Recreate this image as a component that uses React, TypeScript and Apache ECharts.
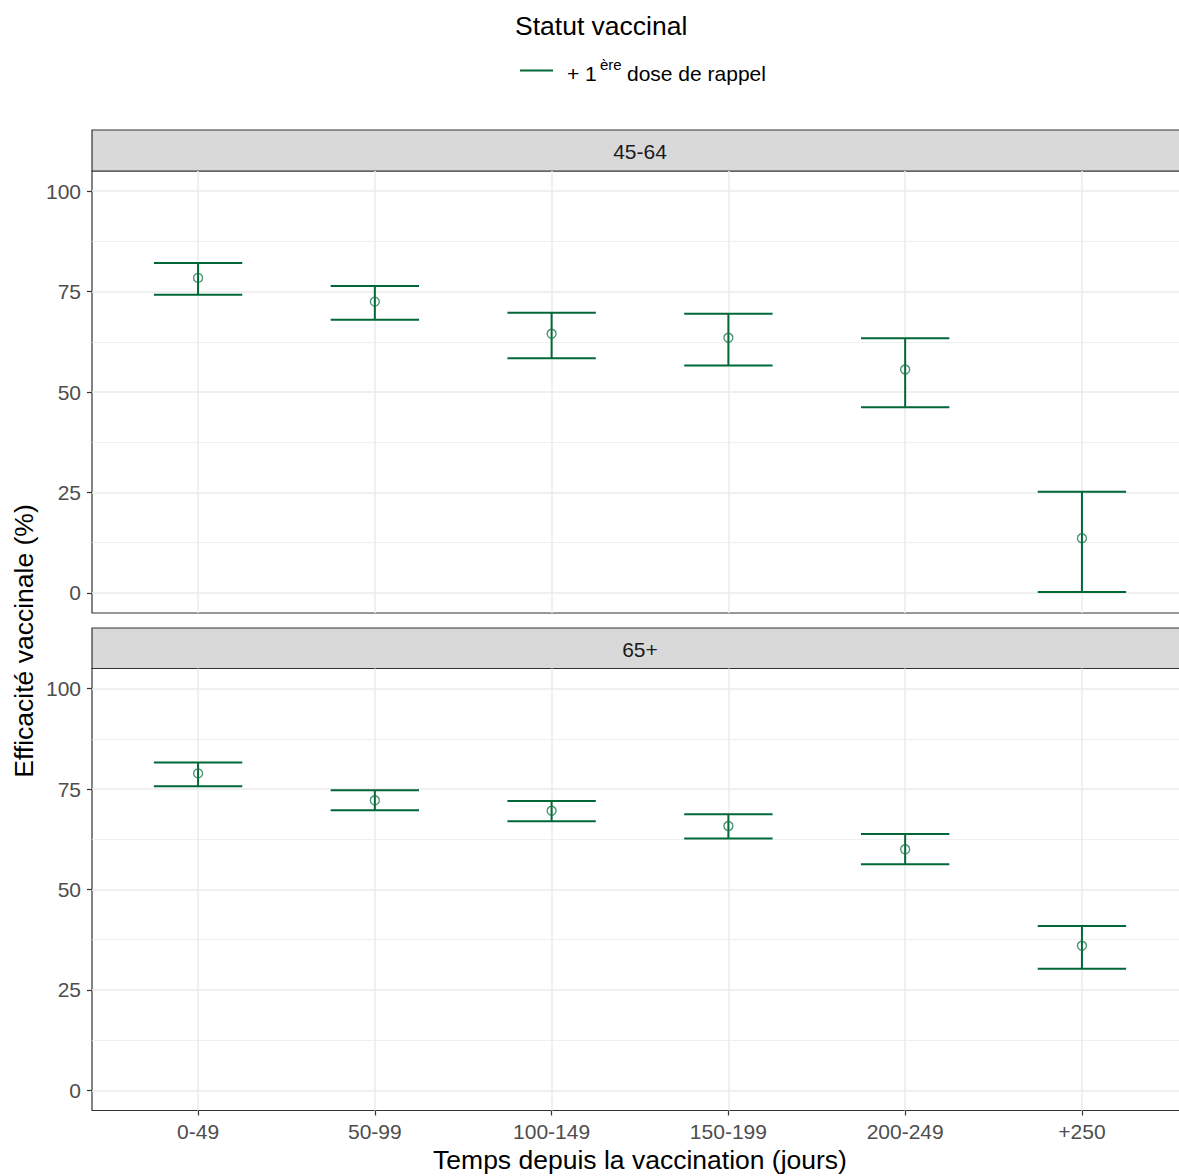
import React, { useEffect, useRef } from "react";
import * as echarts from "echarts";

const categories = ["0-49", "50-99", "100-149", "150-199", "200-249", "+250"];
const panels = ["45-64", "65+"];
const est4564 = [78.4, 72.5, 64.5, 63.5, 55.6, 13.6];
const low4564 = [74.2, 68.0, 58.4, 56.6, 46.2, 0.2];
const high4564 = [82.1, 76.4, 69.7, 69.5, 63.4, 25.2];
const est65 = [78.9, 72.2, 69.6, 65.8, 60.0, 36.0];
const low65 = [75.7, 69.7, 67.0, 62.7, 56.3, 30.3];
const high65 = [81.6, 74.7, 72.0, 68.7, 63.8, 40.9];
const yTicks = [0, 25, 50, 75, 100];
const yMinor = [12.5, 37.5, 62.5, 87.5];

const GREEN = "#006837";
const FONT = "Liberation Sans, Arial, sans-serif";

export default function App() {
  const ref = useRef<HTMLDivElement>(null);
  useEffect(() => {
    if (!ref.current) return;
    const chart = echarts.init(ref.current, undefined, { renderer: "svg" });
    const xIdx = categories.map((_, i) => i);
    const panelData = [
      { est: est4564, low: low4564, high: high4564 },
      { est: est65, low: low65, high: high65 },
    ];
    const grids = [
      { left: 92, top: 171, width: 1096, height: 442 },
      { left: 92, top: 668.5, width: 1096, height: 442 },
    ];
    const stripTops = [130, 628];

    const series: any[] = [];
    panelData.forEach((p, k) => {
      series.push({
        type: "line",
        xAxisIndex: k,
        yAxisIndex: k,
        data: [],
        silent: true,
        z: 1,
        markLine: {
          silent: true,
          symbol: "none",
          z: 1,
          label: { show: false },
          animation: false,
          data: [
            ...yMinor.map((v) => ({ yAxis: v, lineStyle: { color: "#EBEBEB", width: 0.75, type: "solid" } })),
            ...yTicks.map((v) => ({ yAxis: v, lineStyle: { color: "#EBEBEB", width: 1.5, type: "solid" } })),
            ...xIdx.map((v) => ({ xAxis: v, lineStyle: { color: "#EBEBEB", width: 1.5, type: "solid" } })),
          ],
        },
      });
      series.push({
        type: "custom",
        xAxisIndex: k,
        yAxisIndex: k,
        z: 3,
        data: xIdx.map((i) => [i, p.low[i], p.high[i]]),
        renderItem: (params: any, api: any) => {
          const x = api.value(0);
          const lo = api.value(1);
          const hi = api.value(2);
          const pTop = api.coord([x, hi]);
          const pBot = api.coord([x, lo]);
          const tl = api.coord([x - 0.25, hi]);
          const tr = api.coord([x + 0.25, hi]);
          const bl = api.coord([x - 0.25, lo]);
          const br = api.coord([x + 0.25, lo]);
          const style = { stroke: GREEN, lineWidth: 2 };
          return {
            type: "group",
            children: [
              { type: "line", shape: { x1: pTop[0], y1: pTop[1], x2: pBot[0], y2: pBot[1] }, style },
              { type: "line", shape: { x1: tl[0], y1: tl[1], x2: tr[0], y2: tr[1] }, style },
              { type: "line", shape: { x1: bl[0], y1: bl[1], x2: br[0], y2: br[1] }, style },
            ],
          };
        },
      });
      series.push({
        type: "scatter",
        xAxisIndex: k,
        yAxisIndex: k,
        z: 4,
        symbol: "circle",
        symbolSize: 9,
        itemStyle: { color: "rgba(0,0,0,0)", borderColor: "#137444", borderWidth: 1.3 },
        data: xIdx.map((i) => [i, p.est[i]]),
      });
    });

    const graphic: any[] = [];
    stripTops.forEach((t, k) => {
      graphic.push({
        type: "rect",
        shape: { x: 92, y: t, width: 1096, height: k === 0 ? 41 : 40.5 },
        style: { fill: "#D9D9D9", stroke: "#333333", lineWidth: 1.2 },
      });
      graphic.push({
        type: "text",
        x: 640,
        y: t + 21,
        style: { text: panels[k], fill: "#1A1A1A", font: `21px ${FONT}`, align: "center", verticalAlign: "middle" },
      });
    });
    graphic.push(
      { type: "text", x: 515, y: 26, style: { text: "Statut vaccinal", fill: "#000", font: `26.5px ${FONT}`, align: "left", verticalAlign: "middle" } },
      { type: "line", shape: { x1: 520, y1: 70.5, x2: 553, y2: 70.5 }, style: { stroke: GREEN, lineWidth: 2 } },
      { type: "text", x: 567, y: 73, style: { text: "+ 1", fill: "#000", font: `21px ${FONT}`, align: "left", verticalAlign: "middle" } },
      { type: "text", x: 600, y: 64, style: { text: "ère", fill: "#000", font: `15px ${FONT}`, align: "left", verticalAlign: "middle" } },
      { type: "text", x: 627, y: 73, style: { text: "dose de rappel", fill: "#000", font: `21px ${FONT}`, align: "left", verticalAlign: "middle" } },
      { type: "text", x: 640, y: 1160, style: { text: "Temps depuis la vaccination (jours)", fill: "#000", font: `26.5px ${FONT}`, align: "center", verticalAlign: "middle" } },
      { type: "text", x: 24, y: 641, rotation: Math.PI / 2, style: { text: "Efficacité vaccinale (%)", fill: "#000", font: `26.5px ${FONT}`, align: "center", verticalAlign: "middle" } }
    );

    chart.setOption({
      animation: false,
      backgroundColor: "#FFFFFF",
      grid: grids.map((g) => ({ ...g, show: true, borderColor: "#333333", borderWidth: 1.2, backgroundColor: "#FFFFFF", containLabel: false })),
      xAxis: grids.map((_, k) => ({
        type: "value",
        gridIndex: k,
        min: -0.6,
        max: 5.6,
        axisLine: { show: false, onZero: false },
        splitLine: { show: false },
        axisTick: { show: k === 1, customValues: xIdx, length: 5, lineStyle: { color: "#333333", width: 1.2 } },
        axisLabel: {
          show: k === 1,
          customValues: xIdx,
          formatter: (v: number) => categories[Math.round(v)] ?? "",
          color: "#4D4D4D",
          fontSize: 21,
          fontFamily: FONT,
          margin: 10,
        },
      })),
      yAxis: grids.map((_, k) => ({
        type: "value",
        gridIndex: k,
        min: -5,
        max: 105,
        axisLine: { show: false, onZero: false },
        splitLine: { show: false },
        axisTick: { show: true, customValues: yTicks, length: 5, lineStyle: { color: "#333333", width: 1.2 } },
        axisLabel: {
          customValues: yTicks,
          color: "#4D4D4D",
          fontSize: 21,
          fontFamily: FONT,
          margin: 11,
        },
      })),
      series,
      graphic,
    });
    return () => chart.dispose();
  }, []);

  return (
    <div style={{ position: "fixed", left: 0, top: 0, width: 1179, height: 1176, overflow: "hidden", background: "#fff" }}>
      <div ref={ref} style={{ width: 1200, height: 1176 }} />
    </div>
  );
}
